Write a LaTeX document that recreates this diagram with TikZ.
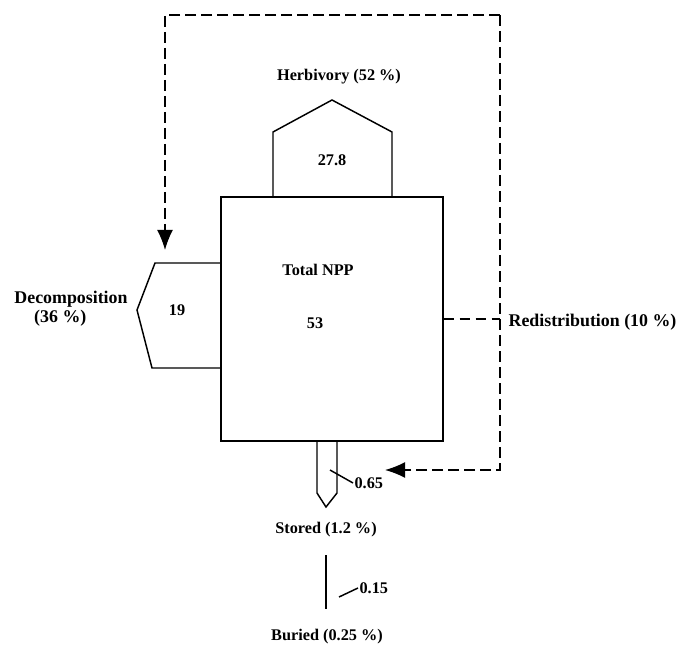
\documentclass[tikz,border=0pt]{standalone}
\usepackage{fontspec}
\setmainfont{Liberation Serif}
\usetikzlibrary{shapes,arrows.meta,positioning,calc}

\begin{document}
\begin{tikzpicture}[x=0.75pt, y=-0.75pt, font=\bfseries\fontsize{12.2}{13}\selectfont,
  flow/.style={draw, line width=1.1pt},
  bigtext/.style={font=\bfseries\fontsize{13.4}{14}\selectfont},
  loopline/.style={draw, line width=1.1pt, dash pattern=on 8pt off 4pt},
  tip/.style={-{Latex[length=15pt,width=12pt]}}]
  \useasboundingbox (0,0) rectangle (681,645);
  % total NPP box
  \node[flow, minimum width=166.5pt, minimum height=183pt, inner sep=0] (npp) at (332,319) {};
  \node (nppname) at (318,270) {Total NPP};
  \node (nppval) at (315,323) {53};
  % herbivory
  \draw[flow] (273,197) -- (273,132) -- (332,100) -- (392,132) -- (392,197);
  \node (herb) at (339,77) {Herbivory (52 \%)};
  \node (herbval) at (332,160) {27.8};
  % decomposition
  \draw[flow] (221,263) -- (155,263) -- (137,310) -- (152,368) -- (221,368);
  \node (decomp) [bigtext, align=center, inner sep=0] at (71,309) {Decomposition\\(36 \%)\hspace*{1.2em}};
  \node (decompval) at (177,310) {19};
  % stored
  \draw[flow] (317,441) -- (317,493) -- (326,507) -- (337,493) -- (337,441);
  \node (stored) at (326,530) {Stored (1.2 \%)};
  \coordinate (s1) at (330,470);
  \node (storedval) [anchor=west, inner sep=1pt] at (353,483) {0.65};
  \draw[flow] (s1) -- (storedval.west);
  % buried
  \node (buried) at (327,637) {Buried (0.25 \%)};
  \draw[flow, shorten <=10pt, shorten >=12pt] (stored.south -| 326,0) -- (buried.north -| 326,0);
  \coordinate (b1) at (339,597);
  \node (buriedval) [anchor=west, inner sep=1pt] at (358,588) {0.15};
  \draw[flow] (b1) -- (buriedval.west);
  % redistribution
  \coordinate (top) at (500,15);
  \node (redist) [bigtext, anchor=west, inner sep=1pt] at (507,322) {Redistribution (10 \%)};
  \draw[loopline] (npp.east) -- (npp.east -| top);
  \draw[loopline, tip] (top) -- (165,15) -- (165,250);
  \draw[loopline, tip] (top) -- (500,470) -- (385,470);
\end{tikzpicture}
\end{document}
